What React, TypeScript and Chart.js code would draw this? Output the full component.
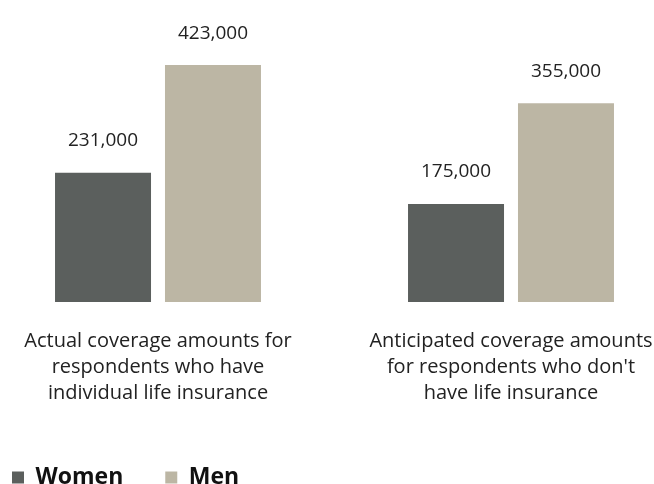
import React, { useEffect, useRef } from "react";
import { Chart, registerables } from "chart.js";

Chart.register(...registerables);

const categories: string[][] = [
  ["Actual coverage amounts for", "respondents who have", "individual life insurance"],
  ["Anticipated coverage amounts", "for respondents who don't", "have life insurance"],
];
const women: number[] = [231000, 175000];
const men: number[] = [423000, 355000];
const seriesNames: string[] = ["Women", "Men"];
const colors: string[] = ["#5b5f5d", "#bcb6a4"];

const FONT = "'Open Sans', 'Noto Sans', sans-serif";

const valueLabels = {
  id: "valueLabels",
  afterDatasetsDraw(chart: any) {
    const ctx = chart.ctx;
    ctx.save();
    ctx.font = `19px ${FONT}`;
    ctx.fillStyle = "#222";
    ctx.textAlign = "center";
    ctx.textBaseline = "middle";
    chart.data.datasets.forEach((ds: any, di: number) => {
      const meta = chart.getDatasetMeta(di);
      meta.data.forEach((el: any, i: number) => {
        ctx.fillText(Number(ds.data[i]).toLocaleString("en-US"), el.x, el.y - 32);
      });
    });
    ctx.restore();
  },
};

export default function App() {
  const ref = useRef<HTMLCanvasElement | null>(null);
  useEffect(() => {
    if (!ref.current) return;
    const chart = new Chart(ref.current, {
      type: "bar",
      data: {
        labels: categories,
        datasets: [
          { label: seriesNames[0], data: women, backgroundColor: colors[0], clip: false as any },
          { label: seriesNames[1], data: men, backgroundColor: colors[1], clip: false as any },
        ],
      },
      options: {
        animation: false,
        responsive: true,
        maintainAspectRatio: false,
        categoryPercentage: 0.623,
        barPercentage: 0.873,
        layout: { padding: { top: 22, left: -30, right: 0, bottom: -15 } },
        plugins: {
          legend: {
            position: "bottom",
            align: "start",
            labels: {
              boxWidth: 12,
              boxHeight: 12,
              padding: 42,
              color: "#111",
              font: { family: FONT, size: 23, weight: "bold" },
            },
          },
          tooltip: { enabled: false },
        },
        scales: {
          x: {
            offset: false,
            grid: { display: false },
            border: { display: false },
            ticks: {
              color: "#222",
              font: { family: FONT, size: 20, lineHeight: 26 / 20 },
              maxRotation: 0,
              minRotation: 0,
              autoSkip: false,
              padding: 18,
            },
            afterFit: (scale: any) => {
              scale.paddingLeft = 158;
              scale.paddingRight = 143;
            },
          },
          y: { display: false, min: 0, max: 500000 },
        },
      },
      plugins: [valueLabels],
    });
    return () => chart.destroy();
  }, []);
  return (
    <div style={{ position: "fixed", left: 0, top: 0, width: 654, height: 484, background: "#fff" }}>
      <canvas ref={ref} />
    </div>
  );
}
